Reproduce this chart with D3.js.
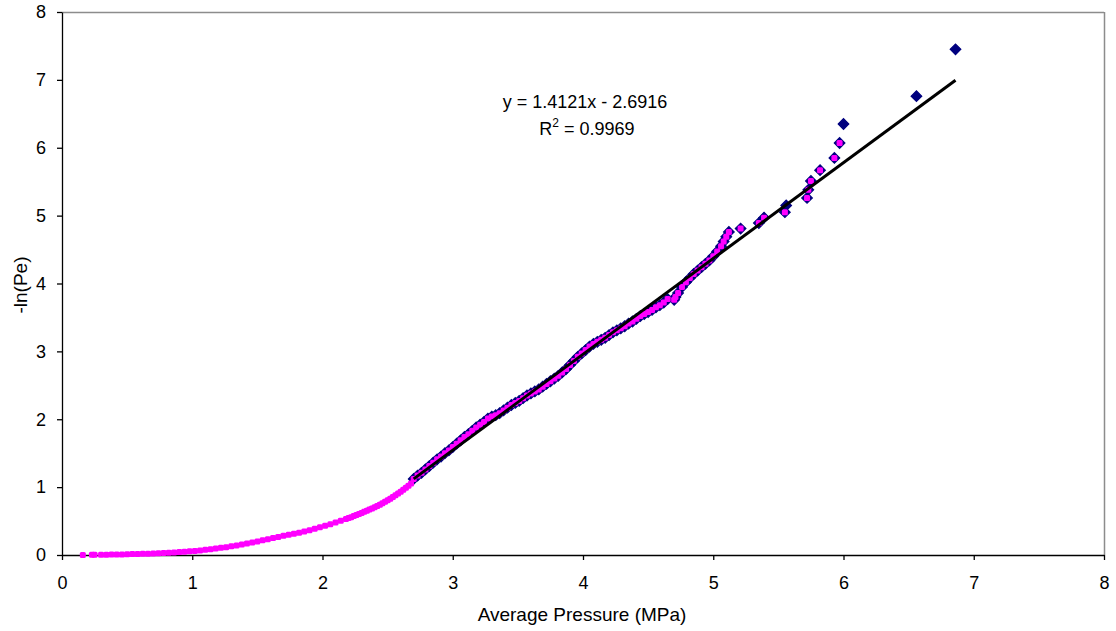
<!DOCTYPE html>
<html><head><meta charset="utf-8">
<script src="https://cdn.jsdelivr.net/npm/d3@7"></script>
<style>
body{margin:0;background:#fff;}
text{font-family:"Liberation Sans",Arial,sans-serif;}
</style></head>
<body><svg id="c" width="1116" height="631"></svg>
<script>
// ---- data ----
const xTicks = [0,1,2,3,4,5,6,7,8];
const yTicks = [0,1,2,3,4,5,6,7,8];

// magenta series: low-pressure part (x < 2.7)
const lowPressure = [0.16,0.23,0.25,0.30,0.34,0.38,0.42,0.46,0.50,0.54,0.58,0.62,0.66,0.70,0.74,0.78,0.82,0.86,0.90,0.94,0.98,1.02,1.06,1.10,1.14,1.18,1.22,1.26,1.30,1.34,1.38,1.42,1.46,1.50,1.54,1.58,1.62,1.66,1.70,1.74,1.78,1.82,1.86,1.90,1.94,1.98,2.02,2.06,2.10,2.14,2.18,2.20,2.22,2.24,2.26,2.28,2.30,2.32,2.34,2.36,2.38,2.40,2.42,2.44,2.46,2.48,2.50,2.52,2.54,2.56,2.58,2.60,2.62,2.64,2.66,2.68];
const lowLnPe = [0.000,0.002,0.003,0.004,0.005,0.006,0.008,0.009,0.011,0.013,0.015,0.018,0.020,0.023,0.026,0.030,0.034,0.038,0.043,0.048,0.054,0.060,0.068,0.076,0.085,0.095,0.105,0.116,0.128,0.140,0.154,0.168,0.184,0.200,0.216,0.232,0.250,0.266,0.282,0.298,0.312,0.328,0.346,0.366,0.386,0.408,0.430,0.454,0.478,0.504,0.530,0.544,0.558,0.573,0.588,0.604,0.620,0.636,0.652,0.669,0.686,0.704,0.722,0.742,0.762,0.783,0.805,0.830,0.855,0.880,0.905,0.932,0.960,0.990,1.020,1.052];

// high-pressure part (x >= 2.7), shown in both series
const highPressure = [2.70,2.73,2.76,2.79,2.82,2.85,2.88,2.91,2.94,2.97,3.00,3.03,3.06,3.09,3.12,3.15,3.18,3.21,3.24,3.27,3.30,3.33,3.36,3.39,3.42,3.45,3.48,3.51,3.54,3.57,3.60,3.63,3.66,3.69,3.72,3.75,3.78,3.81,3.84,3.87,3.90,3.93,3.96,3.99,4.02,4.05,4.08,4.11,4.14,4.17,4.20,4.23,4.26,4.29,4.32,4.35,4.38,4.41,4.44,4.47,4.50,4.53,4.56,4.59,4.62,4.65,4.70,4.71,4.73,4.76,4.79,4.82,4.85,4.88,4.91,4.94,4.97,5.00,5.03,5.06,5.08,5.10,5.12,5.21,5.35,5.39,5.55,5.72,5.73,5.75,5.82,5.93,5.97];
const highLnPe = [1.12,1.17,1.21,1.26,1.31,1.36,1.41,1.45,1.50,1.54,1.59,1.64,1.69,1.74,1.78,1.83,1.88,1.92,1.96,2.01,2.04,2.06,2.09,2.13,2.17,2.21,2.24,2.27,2.31,2.35,2.38,2.41,2.44,2.48,2.52,2.56,2.60,2.64,2.69,2.74,2.80,2.86,2.92,2.97,3.02,3.07,3.11,3.14,3.17,3.20,3.24,3.28,3.31,3.34,3.37,3.41,3.44,3.48,3.52,3.55,3.58,3.61,3.65,3.68,3.72,3.77,3.76,3.80,3.86,3.95,4.02,4.08,4.14,4.19,4.24,4.29,4.34,4.40,4.47,4.55,4.62,4.69,4.76,4.81,4.89,4.97,5.05,5.26,5.38,5.51,5.67,5.85,6.07];

// navy-only points
const navyExtraPressure = [5.56,6.00,6.56,6.86];
const navyExtraLnPe = [5.15,6.35,6.76,7.45];

// linear trend line
const trendSlope = 1.4121, trendIntercept = -2.6916;
const trendText = "y = 1.4121x - 2.6916";
const r2Value = "0.9969";

// ---- chart ----
const svg = d3.select("#c");
const L = 62, R = 1104, T = 12, B = 555;
const x = d3.scaleLinear().domain([0,8]).range([L,R]);
const y = d3.scaleLinear().domain([0,8]).range([B,T]);

// plot border (gray top/right)
svg.append("line").attr("x1",L).attr("x2",R).attr("y1",T+0.5).attr("y2",T+0.5).attr("stroke","#8c8c8c").attr("stroke-width",1.5);
svg.append("line").attr("x1",R+0.5).attr("x2",R+0.5).attr("y1",T).attr("y2",B).attr("stroke","#8c8c8c").attr("stroke-width",1.5);

const ax = svg.append("g").attr("transform",`translate(0,${B})`)
  .call(d3.axisBottom(x).tickValues(xTicks).tickFormat(d3.format("d")).tickSize(5).tickSizeOuter(0).tickPadding(16));
const ay = svg.append("g").attr("transform",`translate(${L},0)`)
  .call(d3.axisLeft(y).tickValues(yTicks).tickFormat(d3.format("d")).tickSize(5).tickSizeOuter(0).tickPadding(11));
[ax,ay].forEach(g=>{
  g.selectAll("text").attr("font-size",18).attr("fill","#000").attr("font-family","Liberation Sans, Arial, sans-serif");
  g.selectAll("line,path").attr("stroke","#000").attr("stroke-width",1.3);
});

// navy diamond series
const navyX = highPressure.concat(navyExtraPressure);
const navyY = highLnPe.concat(navyExtraLnPe);
svg.append("g").selectAll("path").data(navyX.map((d,i)=>[d,navyY[i]])).join("path")
  .attr("d",d3.symbol().type(d3.symbolSquare).size(56))
  .attr("transform",d=>`translate(${x(d[0])},${y(d[1])}) rotate(45)`)
  .attr("fill","#00007f").attr("stroke","#00007f").attr("stroke-width",1.2);

// magenta series
const magX = lowPressure.concat(highPressure);
const magY = lowLnPe.concat(highLnPe);
svg.append("g").selectAll("rect").data(magX.map((d,i)=>[d,magY[i]])).join("rect")
  .attr("x",d=>x(d[0])-3).attr("y",d=>y(d[1])-3).attr("width",6).attr("height",6).attr("rx",1.5)
  .attr("fill","#ff00ff");

// trend line
const tx = d3.extent(navyX);
svg.append("line")
  .attr("x1",x(tx[0])).attr("y1",y(trendSlope*tx[0]+trendIntercept))
  .attr("x2",x(tx[1])).attr("y2",y(trendSlope*tx[1]+trendIntercept))
  .attr("stroke","#000").attr("stroke-width",3);

// equation
svg.append("text").attr("x",585).attr("y",108).attr("text-anchor","middle").attr("font-size",18).text(trendText);
const r2 = svg.append("text").attr("x",587).attr("y",135).attr("text-anchor","middle").attr("font-size",18);
r2.append("tspan").text("R");
r2.append("tspan").attr("font-size",12).attr("dy",-8).text("2");
r2.append("tspan").attr("dy",8).text(" = " + r2Value);

// axis titles
svg.append("text").attr("x",582).attr("y",621).attr("text-anchor","middle").attr("font-size",19).text("Average Pressure (MPa)");
svg.append("text").attr("transform","translate(27,285) rotate(-90)").attr("text-anchor","middle").attr("font-size",19).text("-ln(Pe)");
</script></body></html>
